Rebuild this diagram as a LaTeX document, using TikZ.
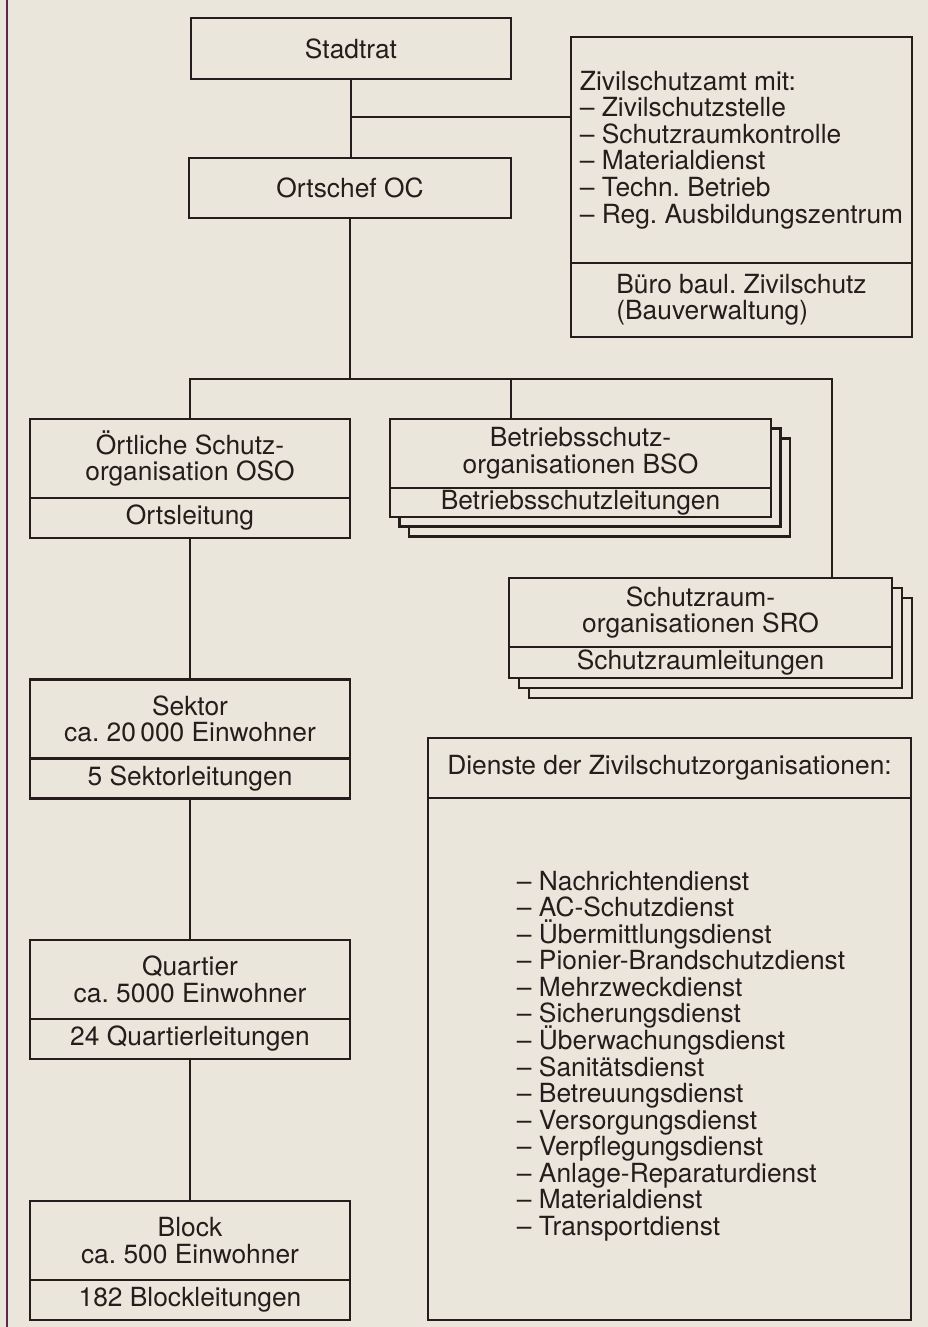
\documentclass[tikz,border=0pt]{standalone}
\usepackage{fontspec}
\setmainfont{TeX Gyre Heros}
\usetikzlibrary{positioning}
\definecolor{paper}{RGB}{234,230,219}
\definecolor{ink}{RGB}{38,28,28}
\definecolor{rulecol}{RGB}{92,42,72}
\frenchspacing

\begin{document}
\begin{tikzpicture}[x=0.02cm,y=-0.02cm,
  every node/.style={font={\fontsize{15pt}{15.1pt}\selectfont\lineskiplimit=-20pt},text=ink},
  thinbox/.style={draw=ink,line width=0.8pt,fill=paper,outer sep=0pt,inner sep=1pt,align=center},
  thickbox/.style={draw=ink,line width=1.6pt,fill=paper,outer sep=0pt,inner sep=1pt,align=center},
  colbox/.style={thickbox,minimum width=6.4cm,minimum height=1.58cm},
  colfoot/.style={thickbox,minimum width=6.4cm,minimum height=0.8cm},
  bsobox/.style={thickbox,minimum width=7.62cm},
  srobox/.style={thickbox,minimum width=7.66cm},
  link/.style={draw=ink,line width=0.8pt}]
  \fill[paper] (0,0) rectangle (928,1327);
  \useasboundingbox (0,0) rectangle (928,1327);
  \draw[rulecol,line width=0.6pt] (7,0) -- (7,1327);

  \node[thinbox,minimum width=6.4cm,minimum height=1.22cm] (rat) at (351,48.5) {Stadtrat};
  \node[thickbox,minimum width=6.44cm,minimum height=1.2cm] (oc) at (350,188) {Ortschef OC};
  \node[thinbox,minimum width=6.82cm,minimum height=4.52cm,align=left] (amt) at (741.5,150)
    {Zivilschutzamt mit:\\– Zivilschutzstelle\\– Schutzraumkontrolle\\– Materialdienst\\– Techn. Betrieb\\– Reg. Ausbildungszentrum};
  \node[thinbox,minimum width=6.82cm,minimum height=1.48cm,align=left,below=0pt of amt] (buero)
    {Büro baul. Zivilschutz\\(Bauverwaltung)};

  \node[colbox] (oso) at (190,458.5) {Örtliche Schutz-\\organisation OSO};
  \node[colfoot,below=0pt of oso] (osoleit) {Ortsleitung};
  \node[colbox] (sektor) at (190,719) {Sektor\\ca. 20\,000 Einwohner};
  \node[colfoot,below=0pt of sektor] (sektorleit) {5 Sektorleitungen};
  \node[colbox] (quartier) at (190,979.5) {Quartier\\ca. 5000 Einwohner};
  \node[colfoot,below=0pt of quartier] (quartierleit) {24 Quartierleitungen};
  \node[colbox] (block) at (190,1240.5) {Block\\ca. 500 Einwohner};
  \node[colfoot,below=0pt of block] (blockleit) {182 Blockleitungen};

  \node[bsobox,minimum height=1.96cm] (bso3) at (599.5,487.5) {};
  \node[bsobox,minimum height=1.96cm] (bso2) at (590,477.5) {};
  \node[bsobox,minimum height=1.38cm] (bso) at (580.5,453.5) {Betriebsschutz-\\organisationen BSO};
  \node[bsobox,minimum height=0.58cm,below=0pt of bso] (bsoleit) {Betriebsschutzleitungen};

  \node[srobox,minimum height=2cm] (sro3) at (720.5,648) {};
  \node[srobox,minimum height=2cm] (sro2) at (710.5,638) {};
  \node[srobox,minimum height=1.38cm] (sro) at (700.5,612.5) {Schutzraum-\\organisationen SRO};
  \node[srobox,minimum height=0.62cm,below=0pt of sro] (sroleit) {Schutzraumleitungen};

  \node[thickbox,minimum width=9.66cm,minimum height=1.2cm] (dienste) at (669.5,768) {Dienste der Zivilschutzorganisationen:};
  \node[thickbox,minimum width=9.66cm,minimum height=10.44cm,below=0pt of dienste] (dienstebox) {};
  \node[align=left] (liste) at (681,1056) {– Nachrichtendienst\\– AC-Schutzdienst\\– Übermittlungsdienst\\– Pionier-Brandschutzdienst\\– Mehrzweckdienst\\– Sicherungsdienst\\– Überwachungsdienst\\– Sanitätsdienst\\– Betreuungsdienst\\– Versorgungsdienst\\– Verpflegungsdienst\\– Anlage-Reparaturdienst\\– Materialdienst\\– Transportdienst};

  \coordinate (amtjoin) at (351,117);
  \coordinate (bus) at (350,379);
  \coordinate (bsodrop) at (511,379);
  \coordinate (srodrop) at (832,379);
  \draw[link] (rat.south) -- (rat.south |- oc.north);
  \draw[link] (amtjoin) -- (amtjoin -| amt.west);
  \draw[link] (oc.south) -- (oc.south |- bus);
  \draw[link] (oso.north) -- (oso.north |- bus) -- (srodrop) -- (srodrop |- sro.north);
  \draw[link] (bsodrop) -- (bsodrop |- bso.north);
  \draw[link] (osoleit) -- (sektor);
  \draw[link] (sektorleit) -- (quartier);
  \draw[link] (quartierleit) -- (block);
\end{tikzpicture}
\end{document}
